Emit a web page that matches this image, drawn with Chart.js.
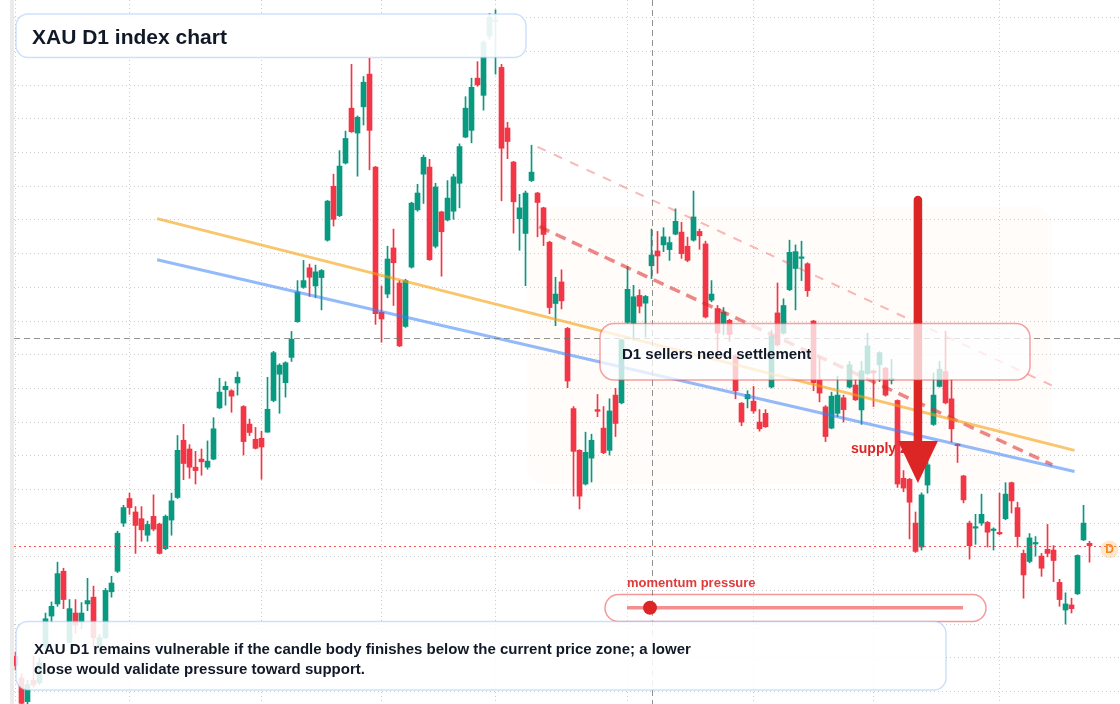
<!DOCTYPE html>
<html><head><meta charset="utf-8">
<style>html,body{margin:0;padding:0;background:#fff;overflow:hidden}canvas{display:block}</style>
<script src="https://cdn.jsdelivr.net/npm/chart.js@4.4.1/dist/chart.umd.min.js"></script>
</head><body>
<canvas id="c" width="1120" height="704"></canvas>
<script>
// ---- data (XAU daily candles) ----
const opens = [2310.4,2304.0,2297.0,2303.3,2302.6,2313.3,2322.4,2326.0,2335.7,2314.6,
2323.3,2320.6,2326.0,2328.0,2313.3,2316.0,2329.6,2335.7,2350.0,2357.3,
2353.3,2351.3,2346.4,2352.0,2349.7,2342.4,2350.9,2357.6,2374.6,2372.0,
2366.6,2369.0,2366.6,2369.0,2384.2,2389.6,2389.3,2391.6,2384.6,2379.4,
2374.9,2375.2,2377.0,2386.4,2394.2,2391.7,2399.2,2409.8,2420.0,2425.8,
2420.4,2422.9,2434.0,2450.0,2441.3,2456.9,2473.2,2465.8,2473.6,2483.3,
2455.7,2412.6,2418.0,2431.7,2421.3,2408.4,2426.0,2443.0,2453.6,2455.7,
2432.2,2442.4,2440.0,2442.6,2450.9,2464.6,2466.6,2482.1,2477.0,2494.6,
2498.9,2485.3,2467.3,2457.2,2440.4,2436.0,2451.7,2448.0,2443.6,2433.4,
2415.2,2421.6,2407.8,2384.0,2371.6,2361.6,2369.3,2383.7,2378.2,2371.6,
2388.0,2385.7,2409.6,2409.3,2417.6,2415.3,2426.4,2430.8,2432.6,2431.2,
2435.8,2436.4,2432.2,2434.0,2436.6,2432.9,2416.2,2413.7,2409.3,2410.2,
2399.7,2385.6,2386.9,2386.2,2380.0,2382.6,2390.4,2412.4,2406.4,2419.3,
2425.6,2428.6,2427.0,2410.0,2392.5,2384.5,2378.2,2382.6,2387.2,2390.4,
2391.0,2383.6,2394.4,2395.2,2397.0,2396.0,2392.4,2386.4,2363.3,2363.0,
2350.0,2342.9,2361.3,2379.3,2390.6,2395.0,2386.9,2373.4,2364.0,2350.0,
2348.5,2350.0,2350.2,2347.8,2347.0,2351.3,2362.0,2354.6,2341.0,2338.6,
2343.8,2340.2,2342.2,2342.0,2332.4,2324.2,2325.7,2329.0,2345.0,2344.0];
const highs = [2311.7,2305.3,2303.3,2310.4,2310.0,2323.3,2326.6,2338.4,2336.6,2327.3,
2327.3,2326.4,2333.6,2331.3,2317.0,2330.6,2334.2,2347.6,2355.3,2358.9,
2354.9,2354.9,2350.6,2358.4,2350.0,2352.4,2358.9,2376.0,2379.3,2373.3,
2371.3,2372.0,2374.4,2381.3,2393.0,2392.0,2389.6,2394.9,2384.9,2380.9,
2378.4,2377.3,2393.3,2401.0,2397.3,2397.9,2406.9,2422.0,2428.0,2426.9,
2426.6,2425.3,2445.8,2453.6,2460.6,2466.4,2486.2,2470.9,2482.6,2488.0,
2455.9,2420.4,2432.2,2437.3,2422.0,2422.4,2445.3,2450.6,2459.3,2458.0,
2450.9,2442.6,2451.7,2453.6,2462.6,2476.6,2482.1,2487.0,2493.3,2501.3,
2502.4,2486.2,2469.0,2457.4,2447.6,2448.6,2462.2,2448.2,2443.8,2433.7,
2423.0,2425.2,2408.1,2384.6,2371.8,2377.0,2376.4,2388.2,2384.6,2386.9,
2390.0,2404.6,2426.2,2420.6,2419.3,2417.6,2437.3,2436.6,2437.7,2435.0,
2443.3,2439.3,2434.9,2448.6,2437.3,2433.7,2422.0,2414.6,2414.0,2410.5,
2400.0,2385.8,2389.3,2390.6,2383.7,2383.7,2407.3,2421.3,2416.6,2434.0,
2432.6,2433.7,2427.3,2410.2,2399.3,2384.9,2388.9,2393.6,2388.0,2398.0,
2392.6,2398.0,2406.4,2395.4,2400.9,2396.2,2398.6,2386.6,2365.6,2363.3,
2353.3,2359.0,2369.3,2394.6,2398.0,2407.0,2392.6,2373.6,2364.2,2350.6,
2352.6,2358.6,2350.5,2348.6,2358.9,2362.0,2362.2,2356.2,2342.0,2346.9,
2346.0,2341.0,2349.6,2343.3,2333.3,2329.3,2327.7,2340.6,2355.3,2344.6];
const lows = [2306.4,2294.0,2296.2,2301.3,2302.0,2312.6,2320.6,2325.3,2324.6,2314.4,
2317.3,2318.6,2324.0,2313.3,2311.3,2315.7,2328.0,2335.3,2349.0,2352.6,
2341.0,2344.6,2344.6,2347.7,2340.8,2342.1,2346.4,2357.3,2362.9,2363.3,
2361.6,2364.2,2366.0,2368.8,2384.0,2385.0,2382.9,2388.0,2370.2,2376.0,
2372.0,2363.0,2377.0,2386.0,2382.6,2387.4,2398.0,2409.6,2419.7,2417.3,
2416.9,2413.3,2433.7,2438.2,2441.0,2456.6,2466.0,2453.0,2468.2,2454.9,
2409.0,2403.7,2416.9,2414.6,2402.4,2408.1,2425.7,2442.6,2444.9,2428.0,
2431.7,2423.3,2439.7,2440.2,2443.6,2464.4,2462.9,2479.7,2472.6,2493.6,
2483.3,2445.7,2458.2,2436.1,2431.0,2420.5,2451.4,2435.0,2432.4,2412.2,
2408.6,2413.6,2390.2,2358.0,2354.2,2361.3,2362.2,2381.6,2370.6,2370.2,
2375.7,2385.4,2409.3,2404.6,2412.4,2405.3,2422.6,2424.2,2430.6,2428.0,
2435.6,2428.6,2427.6,2433.7,2431.3,2410.9,2415.7,2401.3,2406.0,2404.0,
2386.9,2378.9,2384.2,2382.6,2377.3,2378.4,2390.1,2402.6,2406.1,2419.0,
2413.3,2422.0,2417.3,2389.3,2386.0,2374.2,2378.0,2381.6,2380.0,2390.1,
2386.4,2379.3,2394.1,2384.6,2392.0,2387.7,2391.3,2360.6,2359.3,2345.3,
2341.3,2342.0,2358.9,2379.0,2390.4,2385.4,2374.0,2368.0,2356.0,2339.3,
2343.7,2349.3,2342.9,2342.0,2346.5,2351.0,2353.0,2342.9,2327.7,2338.2,
2340.2,2334.2,2340.0,2332.6,2325.3,2320.0,2323.3,2328.8,2344.8,2338.4];
const closes = [2307.7,2296.5,2302.0,2302.0,2308.6,2321.6,2325.3,2335.0,2327.3,2324.6,
2319.7,2323.3,2327.0,2316.0,2316.0,2330.0,2332.2,2347.0,2354.6,2354.6,
2349.3,2348.0,2349.6,2348.2,2341.0,2352.0,2356.6,2371.6,2367.7,2366.6,
2365.6,2368.2,2368.4,2378.0,2388.9,2390.6,2387.7,2393.3,2374.2,2376.9,
2372.2,2372.6,2383.8,2400.6,2396.9,2397.6,2404.6,2418.6,2422.0,2423.0,
2424.6,2425.0,2445.6,2440.2,2456.0,2464.2,2466.2,2470.5,2480.9,2466.6,
2412.2,2410.6,2428.4,2427.3,2402.6,2422.0,2445.0,2448.0,2458.6,2428.2,
2449.8,2436.5,2446.5,2452.8,2461.8,2473.2,2479.4,2480.1,2492.8,2500.2,
2499.2,2461.3,2463.3,2445.4,2443.6,2448.0,2454.2,2445.2,2435.7,2414.0,
2418.0,2416.0,2392.2,2371.3,2358.0,2371.0,2374.6,2383.2,2370.9,2383.3,
2379.6,2404.4,2419.4,2417.2,2414.4,2417.3,2429.6,2429.3,2435.0,2433.3,
2439.6,2430.0,2428.0,2440.9,2435.3,2411.2,2418.0,2406.5,2412.6,2406.0,
2389.3,2380.0,2388.2,2383.3,2378.0,2378.6,2405.6,2402.9,2414.6,2430.4,
2430.6,2429.0,2419.0,2391.7,2388.6,2375.7,2387.7,2388.0,2383.7,2397.0,
2386.6,2395.2,2402.6,2394.6,2400.6,2388.0,2392.9,2361.6,2360.4,2356.2,
2341.6,2358.4,2367.3,2388.0,2395.7,2385.7,2378.0,2373.0,2356.9,2343.3,
2348.8,2352.6,2347.3,2348.1,2346.8,2358.6,2356.6,2346.0,2334.6,2345.6,
2344.1,2336.6,2341.0,2338.9,2327.3,2326.0,2324.6,2340.4,2350.0,2343.3];
const sessions = opens.map((_, i) => i);              // category: trading-day number
const monthStartTicks = [0, 19, 41, 61, 80, 102, 123, 143, 164];
const priceTicks = [2300,2310,2320,2330,2340,2350,2360,2370,2380,2390,2400,
                    2410,2420,2430,2440,2450,2460,2470,2480,2490,2500];
const priceMin = 2296.29, priceMax = 2505.31;
const sessionMin = -0.25, sessionMax = 184.08;
// drawn lines: [session, price]
const resistanceLine = [[23.6, 2440.4], [176.5, 2371.6]];
const supportLine    = [[23.6, 2428.2], [176.5, 2365.3]];
const upperChannel   = [[87.0, 2461.7], [172.7, 2390.9]];
const lowerChannel   = [[87.3, 2438.0], [172.8, 2367.3]];
const zoneBox = { from: 85.25, to: 172.75, top: 2443.85, bottom: 2361.6 };
const arrowMark = { at: 150.4, top: 2447.1, headBase: 2374.4, tip: 2361.9 };
const crosshair = { session: 106, price: 2405.0 };

const UP = '#089981', DOWN = '#f23645';
const FONT = '"Liberation Sans", Arial, Helvetica, sans-serif';
const candleColor = ctx => closes[ctx.dataIndex] >= opens[ctx.dataIndex] ? UP : DOWN;
const toPts = arr => arr.map(p => ({ x: p[0], y: p[1] }));

function rr(ctx, x, y, w, h, r) {
  ctx.beginPath();
  if (ctx.roundRect) ctx.roundRect(x, y, w, h, r);
  else ctx.rect(x, y, w, h);
}

const overlay = {
  id: 'overlay',
  beforeDraw(chart) {
    const ctx = chart.ctx;
    ctx.save();
    ctx.fillStyle = '#ffffff';
    ctx.fillRect(0, 0, chart.width, chart.height);
    ctx.fillStyle = '#ebebeb';
    ctx.fillRect(10, 0, 4, chart.height);
    ctx.restore();
  },
  beforeDatasetsDraw(chart) {
    const { ctx, scales: { x, y } } = chart;
    const x0 = x.getPixelForValue(zoneBox.from), x1 = x.getPixelForValue(zoneBox.to);
    const y0 = y.getPixelForValue(zoneBox.top), y1 = y.getPixelForValue(zoneBox.bottom);
    ctx.save();
    rr(ctx, x0, y0, x1 - x0, y1 - y0, 18);
    ctx.fillStyle = 'rgba(250, 215, 185, 0.07)';
    ctx.fill();
    ctx.restore();
  },
  afterDatasetsDraw(chart) {
    const { ctx, chartArea: ca, scales: { x, y } } = chart;
    ctx.save();
    // last price line
    const lastClose = closes[closes.length - 1];
    const py = Math.round(y.getPixelForValue(lastClose)) + 0.5;
    ctx.setLineDash([2, 3]);
    ctx.strokeStyle = 'rgba(239, 68, 68, 0.9)';
    ctx.lineWidth = 1;
    ctx.beginPath(); ctx.moveTo(ca.left, py); ctx.lineTo(ca.right, py); ctx.stroke();
    // crosshair
    const cx = Math.round(x.getPixelForValue(crosshair.session)) + 0.5;
    const cy = Math.round(y.getPixelForValue(crosshair.price)) + 0.5;
    ctx.setLineDash([6, 4]);
    ctx.strokeStyle = 'rgba(110, 110, 110, 0.75)';
    ctx.beginPath(); ctx.moveTo(ca.left, cy); ctx.lineTo(ca.right, cy); ctx.stroke();
    ctx.beginPath(); ctx.moveTo(cx, ca.top); ctx.lineTo(cx, ca.bottom); ctx.stroke();
    ctx.setLineDash([]);
    // supply zone label
    ctx.font = 'bold 14px ' + FONT;
    ctx.fillStyle = '#dc2626';
    ctx.textBaseline = 'alphabetic';
    ctx.fillText('supply zone', 851, 453);
    // arrow
    const ax = x.getPixelForValue(arrowMark.at);
    const aTop = y.getPixelForValue(arrowMark.top);
    const aBase = y.getPixelForValue(arrowMark.headBase);
    const aTip = y.getPixelForValue(arrowMark.tip);
    ctx.strokeStyle = '#dc2626';
    ctx.lineWidth = 8.5;
    ctx.lineCap = 'round';
    ctx.beginPath(); ctx.moveTo(ax, aTop + 4); ctx.lineTo(ax, aBase + 2); ctx.stroke();
    ctx.lineCap = 'butt';
    ctx.fillStyle = '#dc2626';
    ctx.beginPath(); ctx.moveTo(ax - 20, aBase); ctx.lineTo(ax + 20, aBase); ctx.lineTo(ax, aTip); ctx.closePath(); ctx.fill();
    // title box
    rr(ctx, 16, 14, 510, 43.5, 12);
    ctx.fillStyle = 'rgba(255,255,255,0.9)'; ctx.fill();
    ctx.strokeStyle = 'rgba(147, 187, 247, 0.45)'; ctx.lineWidth = 1.5; ctx.stroke();
    ctx.font = 'bold 21px ' + FONT; ctx.fillStyle = '#111827';
    ctx.fillText('XAU D1 index chart', 32, 43.5);
    // callout box
    rr(ctx, 600, 323.5, 430, 56.5, 14);
    ctx.fillStyle = 'rgba(255,255,255,0.75)'; ctx.fill();
    ctx.strokeStyle = 'rgba(239, 68, 68, 0.5)'; ctx.lineWidth = 1.5; ctx.stroke();
    ctx.font = 'bold 15px ' + FONT; ctx.fillStyle = '#111827';
    ctx.fillText('D1 sellers need settlement', 622, 359);
    // momentum slider
    ctx.font = 'bold 13px ' + FONT; ctx.fillStyle = '#e03a3a';
    ctx.fillText('momentum pressure', 627, 587);
    rr(ctx, 605, 594.5, 381, 27, 13.5);
    ctx.fillStyle = 'rgba(255,255,255,0.35)'; ctx.fill();
    ctx.strokeStyle = 'rgba(239, 68, 68, 0.55)'; ctx.lineWidth = 1.5; ctx.stroke();
    ctx.strokeStyle = 'rgba(239, 68, 68, 0.6)'; ctx.lineWidth = 3.5;
    ctx.beginPath(); ctx.moveTo(627, 607.8); ctx.lineTo(963, 607.8); ctx.stroke();
    ctx.fillStyle = '#dc2626';
    ctx.beginPath(); ctx.arc(650, 607.8, 7, 0, Math.PI * 2); ctx.fill();
    // note box
    rr(ctx, 16, 621.5, 930, 68.5, 12);
    ctx.fillStyle = 'rgba(255,255,255,0.86)'; ctx.fill();
    ctx.strokeStyle = 'rgba(147, 187, 247, 0.45)'; ctx.lineWidth = 1.5; ctx.stroke();
    ctx.font = 'bold 15px ' + FONT; ctx.fillStyle = '#111827';
    ctx.fillText('XAU D1 remains vulnerable if the candle body finishes below the current price zone; a lower', 34, 653.5);
    ctx.fillText('close would validate pressure toward support.', 34, 673.5);
    // price tag
    ctx.fillStyle = 'rgba(253, 186, 116, 0.35)';
    ctx.beginPath(); ctx.arc(1109.5, 549.5, 9, 0, Math.PI * 2); ctx.fill();
    ctx.font = 'bold 12px ' + FONT; ctx.fillStyle = '#f08a1c';
    ctx.textAlign = 'center'; ctx.textBaseline = 'middle';
    ctx.fillText('D', 1109.5, 550);
    ctx.restore();
  }
};

const gridColor = 'rgba(0,0,0,0.2)';
new Chart(document.getElementById('c'), {
  type: 'bar',
  data: {
    datasets: [
      { label: 'wick', data: sessions.map(i => ({ x: i, y: [lows[i], highs[i]] })),
        backgroundColor: candleColor, barThickness: 1, grouped: false, order: 3, borderWidth: 0 },
      { label: 'body', data: sessions.map(i => ({ x: i, y: [opens[i], closes[i]] })),
        backgroundColor: candleColor, barThickness: 5, grouped: false, order: 2, borderWidth: 0, minBarLength: 1.5 },
      { type: 'line', label: 'resistance', data: toPts(resistanceLine), borderColor: 'rgba(245, 158, 11, 0.6)',
        borderWidth: 3, pointRadius: 0, order: 0 },
      { type: 'line', label: 'support', data: toPts(supportLine), borderColor: 'rgba(59, 130, 246, 0.55)',
        borderWidth: 3, pointRadius: 0, order: 0 },
      { type: 'line', label: 'upper channel', data: toPts(upperChannel), borderColor: 'rgba(239, 68, 68, 0.38)',
        borderWidth: 2, borderDash: [9, 9], pointRadius: 0, order: 0 },
      { type: 'line', label: 'lower channel', data: toPts(lowerChannel), borderColor: 'rgba(220, 38, 38, 0.55)',
        borderWidth: 3.5, borderDash: [11, 7], pointRadius: 0, order: 0 }
    ]
  },
  options: {
    responsive: false, animation: false, devicePixelRatio: 1,
    layout: { padding: { left: 14, right: 0, top: 0, bottom: 0 } },
    plugins: { legend: { display: false }, tooltip: { enabled: false } },
    scales: {
      x: { type: 'linear', min: sessionMin, max: sessionMax, offset: false,
        afterBuildTicks: s => { s.ticks = monthStartTicks.map(v => ({ value: v })); },
        ticks: { display: false },
        grid: { color: gridColor, lineWidth: 1, drawTicks: false, offset: false },
        border: { display: false, dash: [1, 3] } },
      y: { type: 'linear', min: priceMin, max: priceMax, beginAtZero: false,
        afterBuildTicks: s => { s.ticks = priceTicks.map(v => ({ value: v })); },
        ticks: { display: false },
        grid: { color: gridColor, lineWidth: 1, drawTicks: false },
        border: { display: false, dash: [1, 3] } }
    }
  },
  plugins: [overlay]
});
</script>
</body></html>
